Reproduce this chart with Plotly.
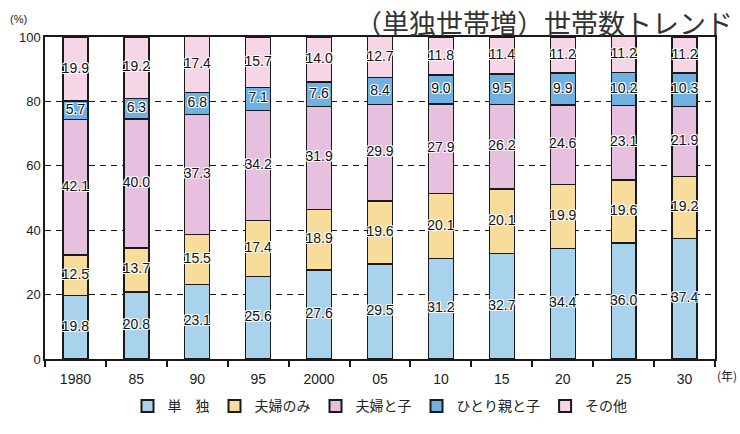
import plotly.graph_objects as go

# Household composition by type, share of all households (%)
years = ["1980", "85", "90", "95", "2000", "05", "10", "15", "20", "25", "30"]
single = [19.8, 20.8, 23.1, 25.6, 27.6, 29.5, 31.2, 32.7, 34.4, 36.0, 37.4]
couple_only = [12.5, 13.7, 15.5, 17.4, 18.9, 19.6, 20.1, 20.1, 19.9, 19.6, 19.2]
couple_children = [42.1, 40.0, 37.3, 34.2, 31.9, 29.9, 27.9, 26.2, 24.6, 23.1, 21.9]
single_parent = [5.7, 6.3, 6.8, 7.1, 7.6, 8.4, 9.0, 9.5, 9.9, 10.2, 10.3]
other = [19.9, 19.2, 17.4, 15.7, 14.0, 12.7, 11.8, 11.4, 11.2, 11.2, 11.2]

series = [
    ("単　独", single, "#a9d2ec"),
    ("夫婦のみ", couple_only, "#f7dc9c"),
    ("夫婦と子", couple_children, "#e8c0df"),
    ("ひとり親と子", single_parent, "#6fb2e2"),
    ("その他", other, "#f6d6e6"),
]

FONT = "Liberation Sans, Arial, sans-serif"
JP = "Noto Sans CJK JP, sans-serif"
halo = "1px 1px 0 #fff, -1px -1px 0 #fff, 1px -1px 0 #fff, -1px 1px 0 #fff"

fig = go.Figure()

base = [0.0] * len(years)
label_x, label_y, label_t = [], [], []
for name, vals, color in series:
    fig.add_trace(go.Bar(
        x=years, y=vals, name=name,
        marker=dict(color=color, line=dict(color="#1a1a1a", width=1.3)),
        hoverinfo="skip",
    ))
    for i, v in enumerate(vals):
        label_x.append(years[i])
        label_y.append(base[i] + v / 2)
        label_t.append(f"{v:.1f}")
        base[i] += v

fig.add_trace(go.Scatter(
    x=label_x, y=label_y, text=label_t, mode="text",
    textposition="middle center",
    textfont=dict(family=FONT, size=14, color="#111", shadow=halo),
    showlegend=False, hoverinfo="skip",
))

fig.update_layout(
    width=740, height=434,
    margin=dict(l=45, r=25, t=37, b=70),
    paper_bgcolor="white", plot_bgcolor="white",
    barmode="stack", bargap=0.59,
    showlegend=True,
    legend=dict(
        orientation="h", x=0.5, xanchor="center", y=-0.147, yanchor="middle",
        traceorder="normal", font=dict(family=JP, size=14, color="#222"),
        itemwidth=30, itemsizing="constant", bgcolor="rgba(0,0,0,0)",
    ),
    xaxis=dict(
        type="category", range=[-0.5, 10.5],
        showline=True, linecolor="#1a1a1a", linewidth=1.5, mirror=True,
        ticks="outside", tickson="boundaries", ticklen=6, tickcolor="#1a1a1a", tickwidth=1.5,
        ticklabelstandoff=6,
        showgrid=False,
        tickfont=dict(family=FONT, size=14, color="#1a1a1a"),
    ),
    yaxis=dict(
        range=[0, 100], tickvals=[0, 20, 40, 60, 80, 100],
        showline=True, linecolor="#1a1a1a", linewidth=1.5, mirror=True,
        showgrid=True, gridcolor="#1a1a1a", griddash="6px,5px", gridwidth=1.4,
        zeroline=False, ticks="",
        tickfont=dict(family=FONT, size=13, color="#1a1a1a"),
    ),
    annotations=[
        dict(text="（単独世帯増）世帯数トレンド", xref="paper", yref="paper",
             x=1.03, y=1.113, xanchor="right", yanchor="top", showarrow=False,
             font=dict(family=JP, size=27, color="#333")),
        dict(text="(%)", xref="paper", yref="paper", x=-0.04, y=1.057,
             xanchor="center", yanchor="middle", showarrow=False,
             font=dict(family=FONT, size=11, color="#1a1a1a")),
        dict(text="(年)", xref="paper", yref="paper", x=1.0, y=-0.052,
             xanchor="left", yanchor="middle", showarrow=False,
             font=dict(family=JP, size=12, color="#1a1a1a")),
    ],
)

fig.write_html("out.html")
